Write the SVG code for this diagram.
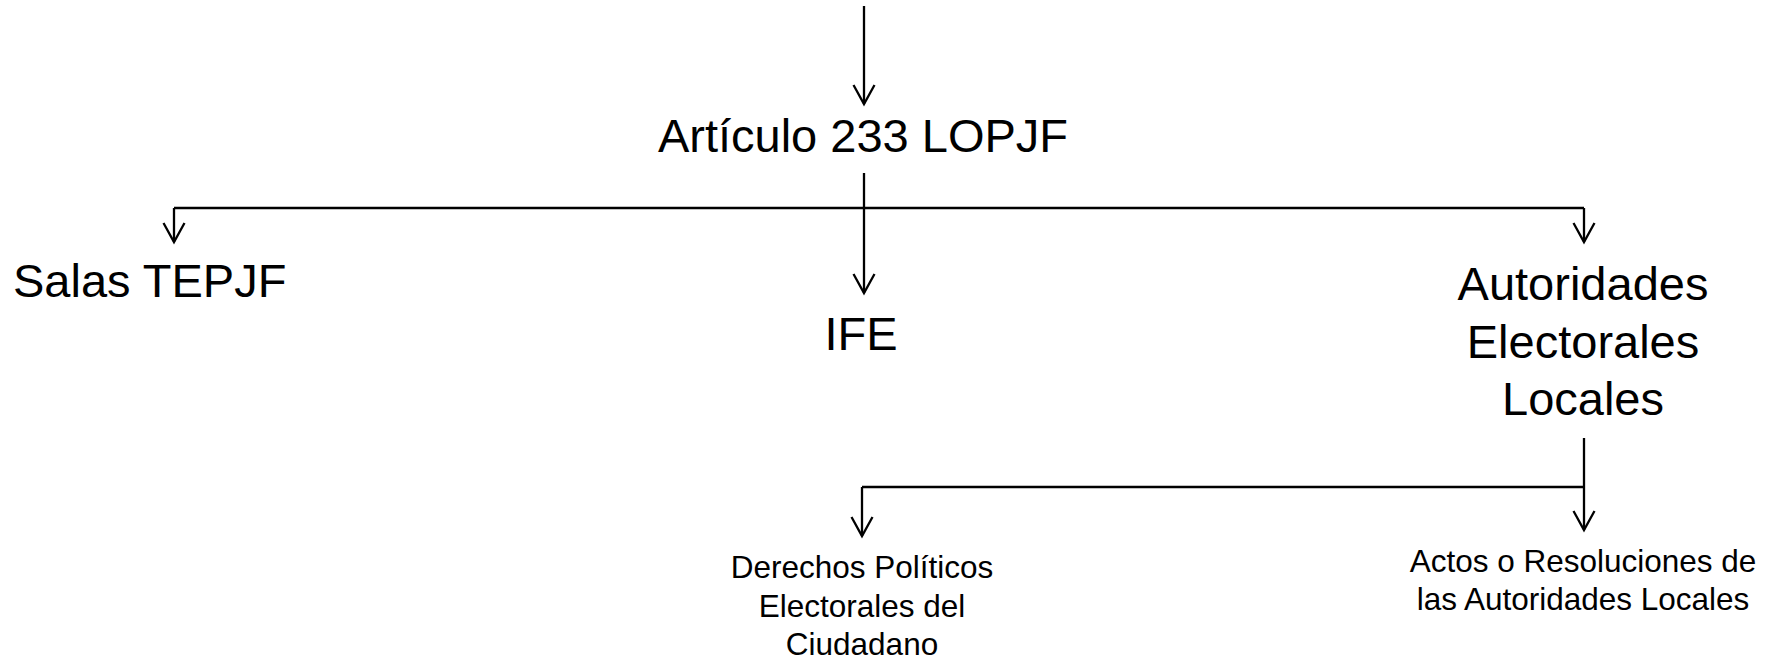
<svg xmlns="http://www.w3.org/2000/svg" width="1781" height="659" viewBox="0 0 1781 659">
<style>
.big{font-family:"Liberation Sans",Arial,sans-serif;font-size:47px;fill:#000}
.small{font-family:"Liberation Sans",Arial,sans-serif;font-size:31.5px;fill:#000}
.c{text-anchor:middle}
.conn path{fill:none;stroke:#000;stroke-width:2.3}
</style>
<defs>
<marker id="arr" markerUnits="userSpaceOnUse" markerWidth="24" markerHeight="26" viewBox="-21 -13 23 26" refX="0" refY="0" orient="auto">
<path d="M-19,-10.5 L0,0 L-19,10.5" fill="none" stroke="#000" stroke-width="2.3"/>
</marker>
</defs>
<rect width="1781" height="659" fill="#fff"/>
<g class="conn" id="connectors">
<path d="M864 6 V104" marker-end="url(#arr)"/>
<path d="M864 173 V293" marker-end="url(#arr)"/>
<path d="M174 208 H1584"/>
<path d="M174 208 V242" marker-end="url(#arr)"/>
<path d="M1584 208 V242" marker-end="url(#arr)"/>
<path d="M1584 438 V530" marker-end="url(#arr)"/>
<path d="M862 487 H1584"/>
<path d="M862 487 V536" marker-end="url(#arr)"/>
</g>
<g id="articulo"><text class="big c" x="863" y="152">Artículo 233 LOPJF</text></g>
<g id="salas"><text class="big" x="13" y="297">Salas TEPJF</text></g>
<g id="ife"><text class="big c" x="861" y="350">IFE</text></g>
<g id="autoridades"><text class="big c" x="1583" y="300">Autoridades</text><text class="big c" x="1583" y="358">Electorales</text><text class="big c" x="1583" y="415">Locales</text></g>
<g id="derechos"><text class="small c" x="862" y="578">Derechos Políticos</text><text class="small c" x="862" y="617">Electorales del</text><text class="small c" x="862" y="655">Ciudadano</text></g>
<g id="actos"><text class="small c" x="1583" y="572">Actos o Resoluciones de</text><text class="small c" x="1583" y="610">las Autoridades Locales</text></g>
</svg>
